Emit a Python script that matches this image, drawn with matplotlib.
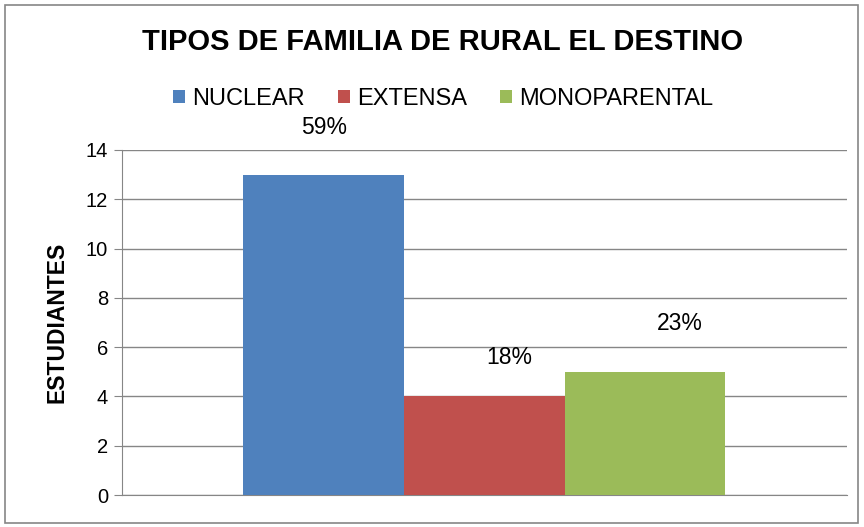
import matplotlib
matplotlib.use("Agg")
import matplotlib.pyplot as plt
from matplotlib.patches import Rectangle

plt.rcParams['font.family'] = ['Liberation Sans', 'DejaVu Sans']

# datos
categorias = ["NUCLEAR", "EXTENSA", "MONOPARENTAL"]
estudiantes = [13, 4, 5]
porcentajes = ["59%", "18%", "23%"]
colores = ["#4f81bd", "#c0504d", "#9bbb59"]

# desplazamiento de las etiquetas (puntos)
desp_x = [0, 18, 25]
desp_y = [34, 28, 35]

fig = plt.figure(figsize=(8.64, 5.27), dpi=100)
ax = fig.add_axes([0.141, 0.0607, 0.839, 0.6547])

gris = "#868686"
pos = range(len(categorias))
for i in pos:
    ax.bar(i, estudiantes[i], width=1.0, color=colores[i], label=categorias[i], zorder=3)
    ax.annotate(porcentajes[i], (i, estudiantes[i]), xytext=(desp_x[i], desp_y[i]),
                textcoords="offset points", ha="center", va="center",
                fontsize=16.5, annotation_clip=False)

ax.set_xlim(-1.256, 3.256)
ax.set_ylim(0, 14)
ax.set_yticks(range(0, 15, 2))
ax.set_xticks([])
ax.tick_params(axis="y", labelsize=14.5, length=6, color=gris, pad=4)
ax.grid(axis="y", color=gris, linewidth=1, zorder=0)
for s in ["top", "right"]:
    ax.spines[s].set_visible(False)
ax.spines["left"].set_color(gris)
ax.spines["bottom"].set_color(gris)
ax.set_ylabel("ESTUDIANTES", fontsize=16.5, fontweight="bold", labelpad=12)

fig.suptitle("TIPOS DE FAMILIA DE RURAL EL DESTINO", fontsize=21, fontweight="bold",
             x=0.512, y=0.92, va="center")
fig.legend(loc="center", bbox_to_anchor=(0.513, 0.812), ncol=3, frameon=False,
           fontsize=17, handlelength=0.5, handleheight=0.5, handletextpad=0.3,
           columnspacing=1.4)

fig.patches.append(Rectangle((0.006, 0.008), 0.987, 0.983, transform=fig.transFigure,
                             fill=False, edgecolor=gris, linewidth=1.2))

fig.savefig("out.png", dpi=100)
